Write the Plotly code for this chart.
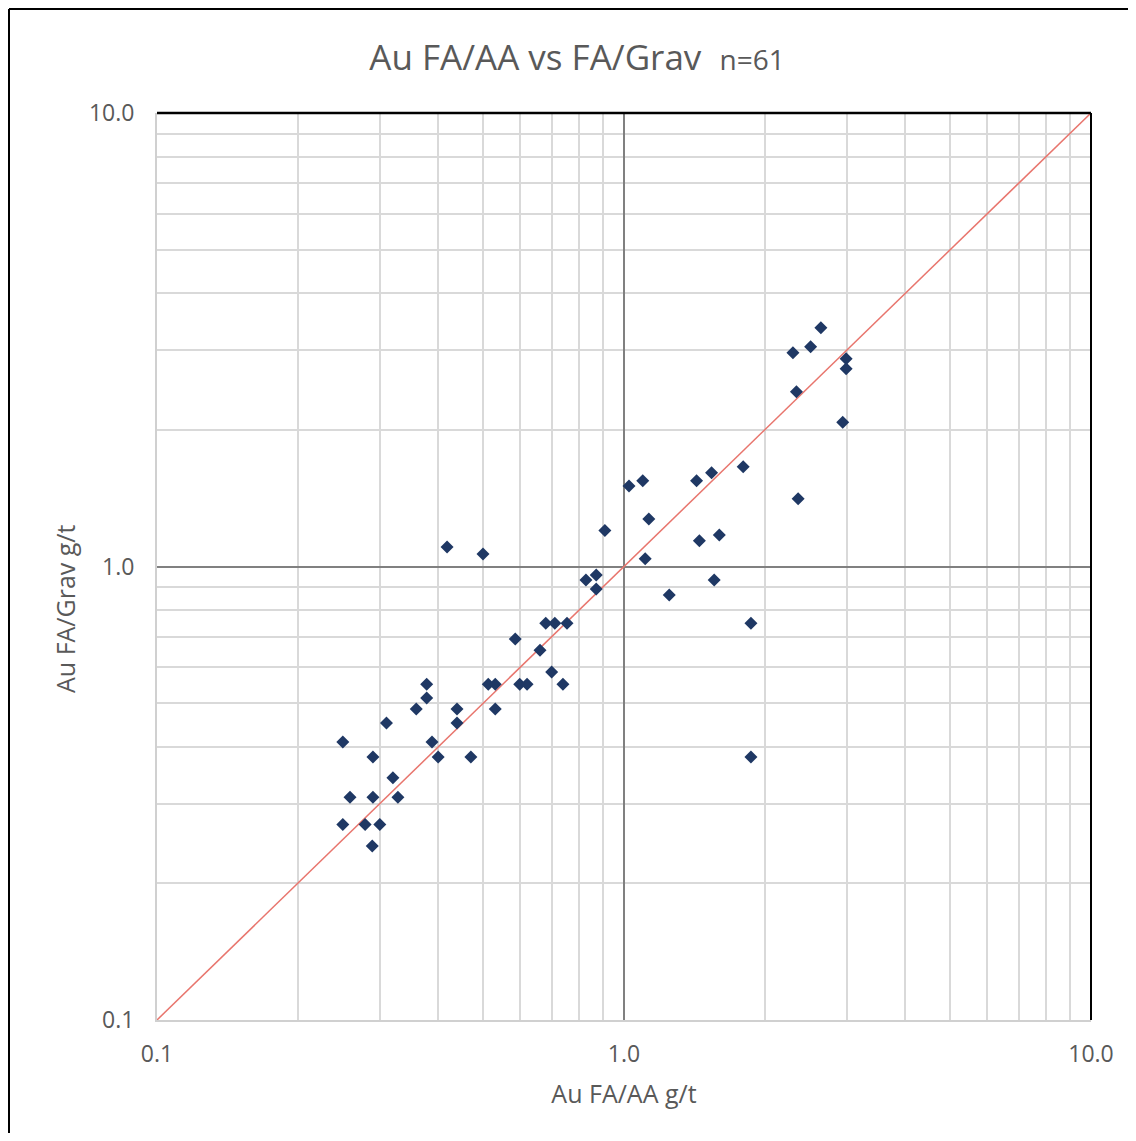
import plotly.graph_objects as go

# Data (Au FA/AA vs FA/Grav, g/t)
fa_aa = [0.25, 0.259, 0.25, 0.279, 0.289, 0.29, 0.29, 0.30, 0.31, 0.32,
         0.328, 0.359, 0.378, 0.378, 0.388, 0.40, 0.418, 0.439, 0.439, 0.47,
         0.499, 0.512, 0.53, 0.53, 0.585, 0.598, 0.62, 0.661, 0.68, 0.70,
         0.711, 0.74, 0.755, 0.829, 0.872, 0.872, 0.91, 1.025, 1.097, 1.11,
         1.13, 1.25, 1.43, 1.45, 1.54, 1.56, 1.60, 1.80, 1.87, 1.87,
         2.30, 2.34, 2.36, 2.51, 2.64, 2.94, 2.99, 2.99]
fa_grav = [0.41, 0.31, 0.27, 0.27, 0.242, 0.31, 0.38, 0.27, 0.452, 0.342,
           0.31, 0.485, 0.513, 0.55, 0.41, 0.38, 1.104, 0.452, 0.485, 0.38,
           1.066, 0.55, 0.55, 0.485, 0.692, 0.55, 0.55, 0.654, 0.75, 0.585,
           0.75, 0.55, 0.75, 0.934, 0.958, 0.892, 1.2, 1.505, 1.545, 1.04,
           1.273, 0.865, 1.545, 1.14, 1.61, 0.934, 1.174, 1.66, 0.75, 0.38,
           2.96, 2.43, 1.41, 3.05, 3.36, 2.08, 2.87, 2.73]
one_to_one = [0.1, 10.0]
major_ticks = [0.1, 1.0, 10.0]
major_labels = ["0.1", "1.0", "10.0"]
minor_ticks = [0.2, 0.3, 0.4, 0.5, 0.6, 0.7, 0.8, 0.9, 2, 3, 4, 5, 6, 7, 8, 9]

FONT = "Open Sans, sans-serif"
GRAY = "#595959"

W, H = 1128, 1125
ML, MT, PW, PH = 149, 105, 934, 907

fig = go.Figure()
fig.add_trace(go.Scatter(x=one_to_one, y=one_to_one, mode="lines",
                         line=dict(color="#E8756D", width=1.5),
                         hoverinfo="skip", showlegend=False))
fig.add_trace(go.Scatter(x=fa_aa, y=fa_grav, mode="markers",
                         marker=dict(symbol="diamond", size=10, color="#1F3864"),
                         showlegend=False))

axis_common = dict(
    type="log", range=[-1, 1],
    tickvals=major_ticks, ticktext=major_labels,
    showgrid=True, gridcolor="#808080", gridwidth=1.5,
    minor=dict(tickvals=minor_ticks, showgrid=True, gridcolor="#D9D9D9", gridwidth=2),
    showline=True, linecolor="#D0D0D0", linewidth=2,
    ticks="", zeroline=False,
    tickfont=dict(family=FONT, size=23, color=GRAY),
)


def px_x(p):
    return (p - ML) / PW


def px_y(p):
    return (MT + PH - p) / PH


fig.update_layout(
    width=W, height=H,
    margin=dict(l=ML, r=W - ML - PW, t=MT, b=H - MT - PH),
    paper_bgcolor="white", plot_bgcolor="white",
    title=dict(
        text="Au FA/AA vs FA/Grav  <span style='font-size:28px'>n=61</span>",
        x=px_x(569), xref="paper", xanchor="center",
        y=1 - 50 / H, yanchor="middle",
        font=dict(family=FONT, size=35, color=GRAY),
    ),
    xaxis=dict(**axis_common, ticklabelstandoff=12,
               title=dict(text="Au FA/AA g/t", standoff=18,
                          font=dict(family=FONT, size=25, color=GRAY))),
    yaxis=dict(**axis_common, ticklabelstandoff=16),
    annotations=[
        dict(text="Au FA/Grav g/t", textangle=-90, showarrow=False,
             xref="paper", yref="paper", x=px_x(57), y=px_y(601),
             xanchor="center", yanchor="middle",
             font=dict(family=FONT, size=25, color=GRAY)),
    ],
    shapes=[
        # top and right plot borders in black
        dict(type="line", xref="paper", yref="paper", x0=0, x1=1, y0=1, y1=1,
             line=dict(color="black", width=2.5)),
        dict(type="line", xref="paper", yref="paper", x0=1, x1=1, y0=0, y1=1,
             line=dict(color="black", width=2)),
        # outer chart frame: only top and left edges are visible in the reference
        dict(type="line", xref="paper", yref="paper",
             x0=px_x(1), x1=px_x(W), y0=px_y(1), y1=px_y(1),
             line=dict(color="black", width=2), layer="below"),
        dict(type="line", xref="paper", yref="paper",
             x0=px_x(1), x1=px_x(1), y0=px_y(1), y1=px_y(H),
             line=dict(color="black", width=2), layer="below"),
    ],
)

fig.write_html("out.html")
